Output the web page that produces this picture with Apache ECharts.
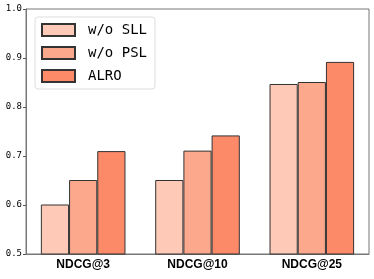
<!DOCTYPE html>
<html><head><meta charset="utf-8">
<script src="https://cdn.jsdelivr.net/npm/echarts@6/dist/echarts.min.js"></script>
<style>html,body{margin:0;padding:0;background:#fff}#c{width:374px;height:279px}</style>
</head><body><div id="c"></div>
<script>
const categories = ['NDCG@3', 'NDCG@10', 'NDCG@25'];
const seriesNames = ['w/o SLL', 'w/o PSL', 'ALRO'];
const woSLL = [0.601, 0.651, 0.847];
const woPSL = [0.651, 0.711, 0.851];
const alro = [0.710, 0.742, 0.892];
const yTicks = [0.5, 0.6, 0.7, 0.8, 0.9, 1.0];
const colors = ['#fecab7', '#fca88c', '#fc8a69'];
const values = [woSLL, woPSL, alro];

const chart = echarts.init(document.getElementById('c'), null, {renderer: 'canvas'});
chart.setOption({
  animation: false,
  grid: {left: 26, right: 5, top: 9, bottom: 25, show: true, borderColor: '#777', borderWidth: 1},
  legend: {
    orient: 'vertical', left: 35, top: 17,
    itemWidth: 33, itemHeight: 12, itemGap: 9,
    padding: [6, 8, 6, 6],
    backgroundColor: '#fff', borderColor: '#ddd', borderWidth: 1, borderRadius: 3,
    textStyle: {fontFamily: 'DejaVu Sans Mono', fontSize: 14, color: '#000', padding: [0, 0, 0, 8]},
    data: seriesNames.map(n => ({name: n, icon: 'rect'}))
  },
  xAxis: {
    type: 'category', data: categories,
    axisLine: {lineStyle: {color: '#777'}},
    axisTick: {alignWithLabel: true, length: 3, lineStyle: {color: '#555'}},
    axisLabel: {color: '#000', fontFamily: 'Liberation Sans', fontWeight: 'bold', fontSize: 12, margin: 5}
  },
  yAxis: {
    type: 'value', min: 0.5, max: 1.0, interval: 0.1,
    splitLine: {show: false},
    axisLine: {show: true, lineStyle: {color: '#777'}},
    axisTick: {show: true, length: 3, lineStyle: {color: '#555'}},
    axisLabel: {color: '#000', fontFamily: 'DejaVu Sans Mono', fontSize: 9, margin: 4,
      formatter: v => yTicks.some(t => Math.abs(t - v) < 1e-9) ? v.toFixed(1) : ''}
  },
  series: seriesNames.map((n, i) => ({
    name: n, type: 'bar', data: values[i],
    barGap: '0%', barCategoryGap: '26%',
    itemStyle: {color: colors[i], borderColor: '#333', borderWidth: 1}
  }))
});
</script></body></html>
